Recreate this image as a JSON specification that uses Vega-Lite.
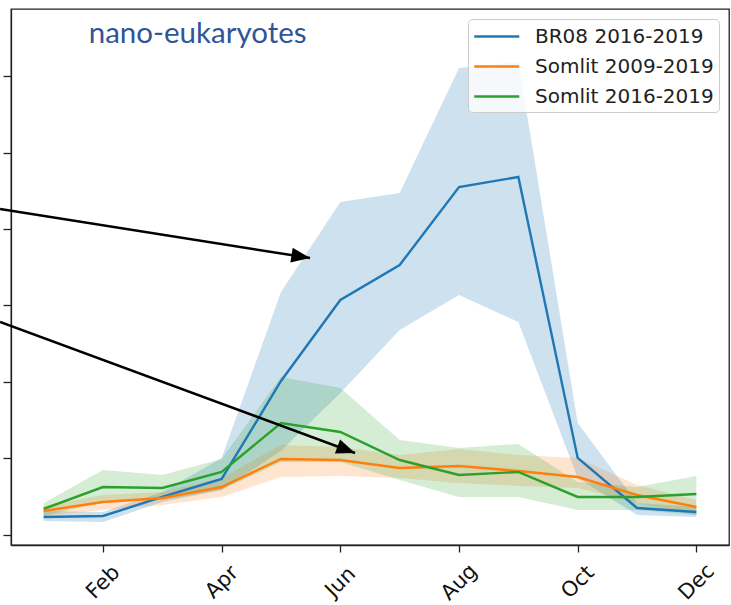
{
  "$schema": "https://vega.github.io/schema/vega-lite/v6.json",
  "width": 718,
  "height": 536,
  "autosize": {"type": "none"},
  "padding": {"left": 11, "top": 9, "right": 2, "bottom": 60},
  "background": "white",
  "config": {
    "view": {"stroke": "#222222", "strokeWidth": 1.3},
    "axis": {"grid": false, "title": null, "domainColor": "#222222", "domainWidth": 1.3, "tickColor": "#222222", "tickWidth": 1.3, "labelColor": "#111111", "labelFont": "DejaVu Sans", "labelFontSize": 21}
  },
  "datasets": {
    "series": [
      {"month": 1, "series": "BR08 2016-2019", "mean": 0.235, "lo": 0.183, "hi": 0.314},
      {"month": 2, "series": "BR08 2016-2019", "mean": 0.248, "lo": 0.170, "hi": 0.301},
      {"month": 3, "series": "BR08 2016-2019", "mean": 0.497, "lo": 0.431, "hi": 0.562},
      {"month": 4, "series": "BR08 2016-2019", "mean": 0.732, "lo": 0.588, "hi": 1.007},
      {"month": 5, "series": "BR08 2016-2019", "mean": 2.013, "lo": 1.100, "hi": 3.176},
      {"month": 6, "series": "BR08 2016-2019", "mean": 3.072, "lo": 1.856, "hi": 4.353},
      {"month": 7, "series": "BR08 2016-2019", "mean": 3.529, "lo": 2.680, "hi": 4.471},
      {"month": 8, "series": "BR08 2016-2019", "mean": 4.549, "lo": 3.137, "hi": 6.105},
      {"month": 9, "series": "BR08 2016-2019", "mean": 4.680, "lo": 2.784, "hi": 6.183},
      {"month": 10, "series": "BR08 2016-2019", "mean": 1.007, "lo": 0.745, "hi": 1.464},
      {"month": 11, "series": "BR08 2016-2019", "mean": 0.353, "lo": 0.261, "hi": 0.418},
      {"month": 12, "series": "BR08 2016-2019", "mean": 0.301, "lo": 0.235, "hi": 0.366},
      {"month": 1, "series": "Somlit 2009-2019", "mean": 0.314, "lo": 0.248, "hi": 0.379},
      {"month": 2, "series": "Somlit 2009-2019", "mean": 0.431, "lo": 0.327, "hi": 0.523},
      {"month": 3, "series": "Somlit 2009-2019", "mean": 0.484, "lo": 0.392, "hi": 0.562},
      {"month": 4, "series": "Somlit 2009-2019", "mean": 0.627, "lo": 0.497, "hi": 0.745},
      {"month": 5, "series": "Somlit 2009-2019", "mean": 0.993, "lo": 0.758, "hi": 1.176},
      {"month": 6, "series": "Somlit 2009-2019", "mean": 0.980, "lo": 0.771, "hi": 1.150},
      {"month": 7, "series": "Somlit 2009-2019", "mean": 0.876, "lo": 0.745, "hi": 1.046},
      {"month": 8, "series": "Somlit 2009-2019", "mean": 0.902, "lo": 0.680, "hi": 1.124},
      {"month": 9, "series": "Somlit 2009-2019", "mean": 0.837, "lo": 0.641, "hi": 1.046},
      {"month": 10, "series": "Somlit 2009-2019", "mean": 0.758, "lo": 0.614, "hi": 1.007},
      {"month": 11, "series": "Somlit 2009-2019", "mean": 0.523, "lo": 0.418, "hi": 0.654},
      {"month": 12, "series": "Somlit 2009-2019", "mean": 0.366, "lo": 0.261, "hi": 0.458},
      {"month": 1, "series": "Somlit 2016-2019", "mean": 0.340, "lo": 0.248, "hi": 0.418},
      {"month": 2, "series": "Somlit 2016-2019", "mean": 0.627, "lo": 0.431, "hi": 0.850},
      {"month": 3, "series": "Somlit 2016-2019", "mean": 0.614, "lo": 0.458, "hi": 0.784},
      {"month": 4, "series": "Somlit 2016-2019", "mean": 0.824, "lo": 0.588, "hi": 0.993},
      {"month": 5, "series": "Somlit 2016-2019", "mean": 1.464, "lo": 0.954, "hi": 2.065},
      {"month": 6, "series": "Somlit 2016-2019", "mean": 1.346, "lo": 0.954, "hi": 1.922},
      {"month": 7, "series": "Somlit 2016-2019", "mean": 0.980, "lo": 0.719, "hi": 1.242},
      {"month": 8, "series": "Somlit 2016-2019", "mean": 0.784, "lo": 0.497, "hi": 1.137},
      {"month": 9, "series": "Somlit 2016-2019", "mean": 0.824, "lo": 0.497, "hi": 1.190},
      {"month": 10, "series": "Somlit 2016-2019", "mean": 0.497, "lo": 0.327, "hi": 0.693},
      {"month": 11, "series": "Somlit 2016-2019", "mean": 0.497, "lo": 0.327, "hi": 0.627},
      {"month": 12, "series": "Somlit 2016-2019", "mean": 0.536, "lo": 0.261, "hi": 0.771}
    ],
    "arrows": [
      {"x0": 0.265, "y0": 4.261, "x1": 5.489, "y1": 3.621, "angle": 9.0},
      {"x0": 0.265, "y0": 2.784, "x1": 6.248, "y1": 1.072, "angle": 20.3}
    ],
    "labels": [
      {"x": 1.76, "y": 6.43, "text": "nano-eukaryotes"}
    ]
  },
  "layer": [
    {
      "data": {"name": "series"},
      "transform": [{"filter": "datum.series === 'BR08 2016-2019'"}],
      "mark": {"type": "area", "fillOpacity": 0.22, "color": "#1f77b4"},
      "encoding": {
        "x": {"field": "month", "type": "quantitative", "scale": {"domain": [0.45, 12.55], "nice": false, "zero": false},
              "axis": {"values": [2, 4, 6, 8, 10, 12], "tickSize": 7, "labelAngle": -45, "labelAlign": "center", "labelBaseline": "middle", "labelPadding": 30,
                       "labelExpr": "['','Jan','Feb','Mar','Apr','May','Jun','Jul','Aug','Sep','Oct','Nov','Dec'][datum.value]"}},
        "y": {"field": "lo", "type": "quantitative", "scale": {"domain": [-0.131, 6.876], "nice": false, "zero": false},
              "axis": {"values": [0, 1, 2, 3, 4, 5, 6], "labels": false, "tickSize": 8}},
        "y2": {"field": "hi"}
      }
    },
    {
      "data": {"name": "series"},
      "transform": [{"filter": "datum.series === 'Somlit 2009-2019'"}],
      "mark": {"type": "area", "fillOpacity": 0.2, "color": "#ff7f0e"},
      "encoding": {
        "x": {"field": "month", "type": "quantitative"},
        "y": {"field": "lo", "type": "quantitative"},
        "y2": {"field": "hi"}
      }
    },
    {
      "data": {"name": "series"},
      "transform": [{"filter": "datum.series === 'Somlit 2016-2019'"}],
      "mark": {"type": "area", "fillOpacity": 0.2, "color": "#2ca02c"},
      "encoding": {
        "x": {"field": "month", "type": "quantitative"},
        "y": {"field": "lo", "type": "quantitative"},
        "y2": {"field": "hi"}
      }
    },
    {
      "data": {"name": "series"},
      "mark": {"type": "line", "strokeWidth": 2.4},
      "encoding": {
        "x": {"field": "month", "type": "quantitative"},
        "y": {"field": "mean", "type": "quantitative"},
        "color": {"field": "series", "type": "nominal", "scale": {"domain": ["BR08 2016-2019", "Somlit 2009-2019", "Somlit 2016-2019"], "range": ["#1f77b4", "#ff7f0e", "#2ca02c"]},
                  "legend": {"title": null, "orient": "top-right", "offset": 10, "labelFont": "DejaVu Sans", "labelFontSize": 20, "labelColor": "#222222", "labelLimit": 400,
                             "symbolType": "M-1,0H3", "symbolSize": 506, "symbolStrokeWidth": 2.5, "labelOffset": 37, "rowPadding": 7,
                             "fillColor": "rgba(255,255,255,0.8)", "strokeColor": "#cccccc", "cornerRadius": 4, "padding": 5}}
      }
    },
    {
      "data": {"name": "arrows"},
      "mark": {"type": "rule", "color": "black", "strokeWidth": 2.5},
      "encoding": {
        "x": {"field": "x0", "type": "quantitative"},
        "y": {"field": "y0", "type": "quantitative"},
        "x2": {"field": "x1"},
        "y2": {"field": "y1"}
      }
    },
    {
      "data": {"name": "arrows"},
      "mark": {"type": "point", "shape": "M0,0 L-1,-0.4 L-1,0.4 Z", "filled": true, "color": "black", "opacity": 1, "size": 1400},
      "encoding": {
        "x": {"field": "x1", "type": "quantitative"},
        "y": {"field": "y1", "type": "quantitative"},
        "angle": {"field": "angle", "type": "quantitative", "scale": null}
      }
    },
    {
      "data": {"name": "labels"},
      "mark": {"type": "text", "align": "left", "baseline": "alphabetic", "font": "Lato", "fontSize": 29.5, "color": "#2f5597"},
      "encoding": {
        "x": {"field": "x", "type": "quantitative"},
        "y": {"field": "y", "type": "quantitative"},
        "text": {"field": "text"}
      }
    }
  ]
}
